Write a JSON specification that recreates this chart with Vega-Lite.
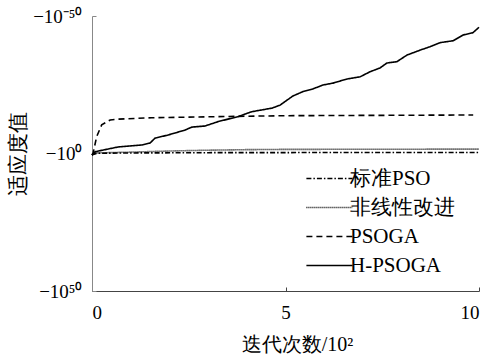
{
  "$schema": "https://vega.github.io/schema/vega-lite/v6.json",
  "autosize": {"type": "none"},
  "padding": {"left": 92, "top": 16, "right": 12, "bottom": 65},
  "width": 387,
  "height": 275,
  "background": "white",
  "config": {
    "view": {"stroke": null},
    "font": "Liberation Serif",
    "axis": {"grid": false, "labelFont": "Liberation Serif", "titleFont": "Liberation Serif", "labelColor": "black", "titleColor": "black", "titleFontWeight": "normal"}
  },
  "datasets": {
    "curves": [
      {"iter": 0, "log10": 0.55, "algo": "标准PSO"},
      {"iter": 0.1, "log10": -0.1, "algo": "标准PSO"},
      {"iter": 1, "log10": -0.2, "algo": "标准PSO"},
      {"iter": 3, "log10": -0.3, "algo": "标准PSO"},
      {"iter": 6, "log10": -0.35, "algo": "标准PSO"},
      {"iter": 10, "log10": -0.35, "algo": "标准PSO"},

      {"iter": 0, "log10": 0.55, "algo": "非线性改进"},
      {"iter": 0.1, "log10": -0.2, "algo": "非线性改进"},
      {"iter": 1, "log10": -0.5, "algo": "非线性改进"},
      {"iter": 2, "log10": -0.9, "algo": "非线性改进"},
      {"iter": 3, "log10": -1.2, "algo": "非线性改进"},
      {"iter": 4, "log10": -1.4, "algo": "非线性改进"},
      {"iter": 5, "log10": -1.5, "algo": "非线性改进"},
      {"iter": 10, "log10": -1.6, "algo": "非线性改进"},

      {"iter": 0, "log10": 0.55, "algo": "PSOGA"},
      {"iter": 0.03, "log10": -0.2, "algo": "PSOGA"},
      {"iter": 0.12, "log10": -6.1, "algo": "PSOGA"},
      {"iter": 0.25, "log10": -10.4, "algo": "PSOGA"},
      {"iter": 0.47, "log10": -12.2, "algo": "PSOGA"},
      {"iter": 0.68, "log10": -12.5, "algo": "PSOGA"},
      {"iter": 1.54, "log10": -13.0, "algo": "PSOGA"},
      {"iter": 3.26, "log10": -13.4, "algo": "PSOGA"},
      {"iter": 5.0, "log10": -13.75, "algo": "PSOGA"},
      {"iter": 9.85, "log10": -14.0, "algo": "PSOGA"},

      {"iter": 0, "log10": 0.55, "algo": "H-PSOGA"},
      {"iter": 0.08, "log10": -0.65, "algo": "H-PSOGA"},
      {"iter": 0.67, "log10": -2.36, "algo": "H-PSOGA"},
      {"iter": 1.29, "log10": -3.1, "algo": "H-PSOGA"},
      {"iter": 1.5, "log10": -3.8, "algo": "H-PSOGA"},
      {"iter": 1.63, "log10": -5.6, "algo": "H-PSOGA"},
      {"iter": 1.96, "log10": -6.7, "algo": "H-PSOGA"},
      {"iter": 2.4, "log10": -8.5, "algo": "H-PSOGA"},
      {"iter": 2.58, "log10": -9.6, "algo": "H-PSOGA"},
      {"iter": 2.92, "log10": -10.0, "algo": "H-PSOGA"},
      {"iter": 3.26, "log10": -11.6, "algo": "H-PSOGA"},
      {"iter": 3.77, "log10": -13.4, "algo": "H-PSOGA"},
      {"iter": 4.13, "log10": -15.2, "algo": "H-PSOGA"},
      {"iter": 4.65, "log10": -16.5, "algo": "H-PSOGA"},
      {"iter": 4.86, "log10": -17.6, "algo": "H-PSOGA"},
      {"iter": 5.19, "log10": -20.9, "algo": "H-PSOGA"},
      {"iter": 5.45, "log10": -22.5, "algo": "H-PSOGA"},
      {"iter": 5.71, "log10": -23.5, "algo": "H-PSOGA"},
      {"iter": 5.97, "log10": -24.9, "algo": "H-PSOGA"},
      {"iter": 6.23, "log10": -25.6, "algo": "H-PSOGA"},
      {"iter": 6.59, "log10": -27.1, "algo": "H-PSOGA"},
      {"iter": 6.93, "log10": -27.9, "algo": "H-PSOGA"},
      {"iter": 7.18, "log10": -29.7, "algo": "H-PSOGA"},
      {"iter": 7.44, "log10": -31.1, "algo": "H-PSOGA"},
      {"iter": 7.62, "log10": -32.9, "algo": "H-PSOGA"},
      {"iter": 7.88, "log10": -33.4, "algo": "H-PSOGA"},
      {"iter": 8.14, "log10": -35.8, "algo": "H-PSOGA"},
      {"iter": 8.48, "log10": -37.6, "algo": "H-PSOGA"},
      {"iter": 8.73, "log10": -38.8, "algo": "H-PSOGA"},
      {"iter": 8.99, "log10": -40.3, "algo": "H-PSOGA"},
      {"iter": 9.33, "log10": -41.0, "algo": "H-PSOGA"},
      {"iter": 9.59, "log10": -43.1, "algo": "H-PSOGA"},
      {"iter": 9.84, "log10": -43.9, "algo": "H-PSOGA"},
      {"iter": 10.0, "log10": -45.9, "algo": "H-PSOGA"}
    ]
  },
  "data": {"name": "curves"},
  "mark": {"type": "line", "color": "black", "strokeWidth": 1.6},
  "encoding": {
    "x": {
      "field": "iter", "type": "quantitative",
      "scale": {"domain": [0, 10], "nice": false},
      "axis": {
        "values": [0, 5, 10], "title": "迭代次数/10²",
        "domainColor": "#444444", "tickColor": "#444444", "tickSize": -4, "labelPadding": 16,
        "labelFontSize": 19, "titleFontSize": 20,
        "titleX": 205, "titleY": 53, "titleBaseline": "middle"
      }
    },
    "y": {
      "field": "log10", "type": "quantitative",
      "scale": {"domain": [-50, 50], "reverse": true, "nice": false},
      "axis": {
        "values": [-50, 0, 50], "title": "适应度值",
        "labelExpr": "datum.value == -50 ? '−10⁻⁵⁰' : datum.value == 0 ? '−10⁰' : '−10⁵⁰'",
        "domainColor": "#888888", "tickColor": "#888888", "tickSize": -4, "labelPadding": 14,
        "labelFontSize": 19, "titleFontSize": 21,
        "titleX": -74, "titleY": 137.5, "titleAngle": 270, "titleBaseline": "middle", "titleAlign": "center"
      }
    },
    "detail": {"field": "algo"},
    "strokeDash": {
      "field": "algo", "type": "nominal",
      "scale": {
        "domain": ["标准PSO", "非线性改进", "PSOGA", "H-PSOGA"],
        "range": [[5, 2, 1.5, 2], [1, 1], [6, 4], [1, 0]]
      },
      "legend": {
        "title": null, "orient": "none", "legendX": 227, "legendY": 152,
        "symbolType": "M-3.85,0H3.85", "symbolSize": 144, "symbolStrokeWidth": 1.5, "symbolStrokeColor": "black",
        "labelFontSize": 21, "labelFont": "Liberation Serif", "labelColor": "black",
        "rowPadding": 7, "labelOffset": 10
      }
    }
  }
}
